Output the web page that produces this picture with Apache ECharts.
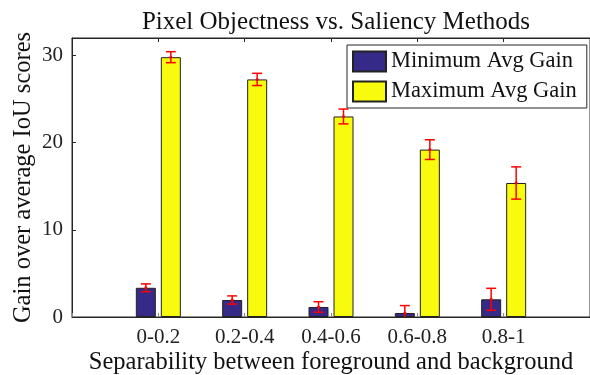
<!DOCTYPE html>
<html lang="en">
<head>
    <meta charset="UTF-8">
    <title>Pixel Objectness vs. Saliency Methods</title>
    <script src="https://cdn.jsdelivr.net/npm/echarts@6/dist/echarts.min.js"></script>
    <style>
        body { margin: 0; background: #fff; }
        #main { width: 590px; height: 375px; }
    </style>
</head>
<body>
<div id="main"></div>
<script>
    // data
    var groups = ['0-0.2', '0.2-0.4', '0.4-0.6', '0.6-0.8', '0.8-1'];
    var minGain = [3.35, 1.95, 1.15, 0.46, 2.03];
    var minErr = [0.45, 0.47, 0.6, 0.85, 1.26];
    var maxGain = [29.8, 27.25, 23.0, 19.2, 15.37];
    var maxErr = [0.63, 0.7, 0.85, 1.13, 1.85];
    var yTicks = [0, 10, 20, 30];

    var font = 'Liberation Serif';
    var ink = '#262626';
    var barW = 20, barGapPx = 5;
    var shift = (barW + barGapPx) / 2;

    // pad categories so groups sit at 1..5 on a 0..6 axis
    var cats = [''].concat(groups, ['']);

    function pairs(vals) {
        return vals.map(function (v, i) { return [i + 1, v]; });
    }
    function errData(vals, errs) {
        return vals.map(function (v, i) { return [i + 1, v - errs[i], v + errs[i], v]; });
    }
    function errRender(dx) {
        return function (params, api) {
            var x = api.value(0);
            var lo = api.coord([x, api.value(1)]);
            var hi = api.coord([x, api.value(2)]);
            var mid = api.coord([x, api.value(3)]);
            var cx = lo[0] + dx, cap = 5;
            var st = { stroke: '#ff0000', lineWidth: 1.5 };
            return {
                type: 'group',
                children: [
                    { type: 'line', shape: { x1: cx, y1: lo[1], x2: cx, y2: hi[1] }, style: st },
                    { type: 'line', shape: { x1: cx - cap, y1: lo[1], x2: cx + cap, y2: lo[1] }, style: st },
                    { type: 'line', shape: { x1: cx - cap, y1: hi[1], x2: cx + cap, y2: hi[1] }, style: st },
                    { type: 'circle', shape: { cx: cx, cy: mid[1], r: 1.5 }, style: { fill: '#ff0000' } }
                ]
            };
        };
    }

    var myChart = echarts.init(document.getElementById('main'));
    var option = {
        animation: false,
        textStyle: { fontFamily: font, color: ink },
        title: {
            text: 'Pixel Objectness vs. Saliency Methods',
            left: 331,
            textAlign: 'center',
            top: 5,
            textStyle: { fontFamily: font, fontSize: 25, fontWeight: 'normal', color: '#111' }
        },
        legend: {
            left: 347,
            top: 45,
            orient: 'vertical',
            icon: 'rect',
            itemWidth: 33,
            itemHeight: 20,
            itemGap: 7,
            padding: [5, 10, 5, 5],
            borderColor: ink,
            borderWidth: 1,
            borderRadius: 0,
            backgroundColor: '#fff',
            textStyle: { fontFamily: font, fontSize: 22.5, color: '#111' },
            data: ['Minimum Avg Gain', 'Maximum Avg Gain']
        },
        grid: {
            left: 72, right: 0, top: 38, bottom: 58,
            outerBoundsMode: 'none',
            containLabel: false,
            show: true, borderColor: ink, borderWidth: 1
        },
        xAxis: [{
            type: 'category',
            data: cats,
            boundaryGap: false,
            name: 'Separability between foreground and background',
            nameLocation: 'middle',
            nameGap: 33,
            nameMoveOverlap: false,
            nameTextStyle: { fontFamily: font, fontSize: 24.5, color: '#111' },
            axisLine: { lineStyle: { color: ink } },
            axisTick: { inside: true, length: 4, lineStyle: { color: '#888' } },
            axisLabel: { fontFamily: font, fontSize: 21, color: '#222', margin: 10, interval: 0 }
        }, {
            type: 'category',
            data: cats,
            boundaryGap: false,
            position: 'top',
            axisLine: { lineStyle: { color: ink } },
            axisTick: { inside: true, length: 4, lineStyle: { color: ink } },
            axisLabel: { show: false }
        }],
        yAxis: {
            type: 'value',
            min: 0,
            max: 32,
            interval: 10,
            name: 'Gain over average IoU scores',
            nameLocation: 'middle',
            nameGap: 36,
            nameMoveOverlap: false,
            nameTextStyle: { fontFamily: font, fontSize: 24.5, color: '#111' },
            axisLine: { show: true, lineStyle: { color: ink } },
            axisTick: { show: true, inside: true, length: 4, lineStyle: { color: ink } },
            splitLine: { show: false },
            axisLabel: {
                fontFamily: font, fontSize: 21, color: '#222', margin: 9,
                formatter: function (v) { return yTicks.indexOf(v) >= 0 ? String(v) : ''; }
            }
        },
        series: [{
            name: 'Minimum Avg Gain',
            type: 'bar',
            barWidth: barW,
            barGap: (barGapPx / barW * 100) + '%',
            itemStyle: { color: '#352A87', borderColor: '#222', borderWidth: 1 },
            data: pairs(minGain)
        }, {
            name: 'Maximum Avg Gain',
            type: 'bar',
            barWidth: barW,
            itemStyle: { color: '#F9FB0E', borderColor: '#222', borderWidth: 1 },
            data: pairs(maxGain)
        }, {
            type: 'custom',
            renderItem: errRender(-shift),
            clip: true,
            z: 5,
            data: errData(minGain, minErr)
        }, {
            type: 'custom',
            renderItem: errRender(shift),
            clip: true,
            z: 5,
            data: errData(maxGain, maxErr)
        }]
    };
    myChart.setOption(option);
</script>
</body>
</html>
